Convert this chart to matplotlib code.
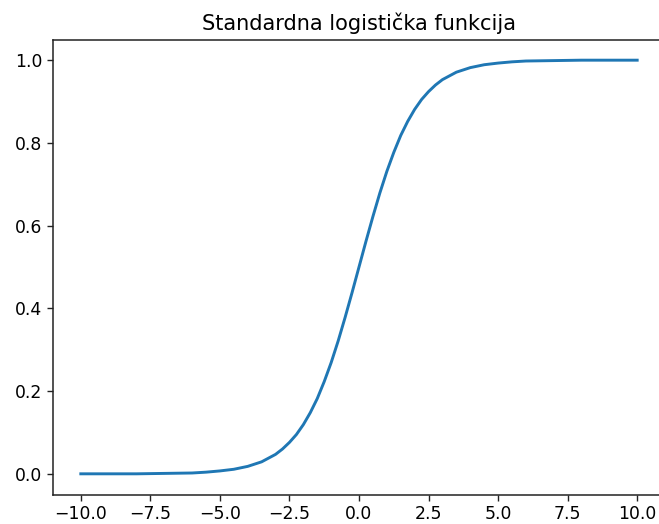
import matplotlib
matplotlib.use("Agg")
import matplotlib.pyplot as plt

# values
x_right = [0.0, 0.25, 0.5, 0.75, 1.0, 1.25, 1.5, 1.75, 2.0, 2.25, 2.5, 2.75,
           3.0, 3.5, 4.0, 4.5, 5.0, 5.5, 6.0, 7.0, 8.0, 9.0, 10.0]
y_right = [0.500, 0.562, 0.622, 0.679, 0.731, 0.777, 0.818, 0.852, 0.881, 0.905,
           0.924, 0.940, 0.953, 0.971, 0.982, 0.989, 0.993, 0.996, 0.998, 0.999,
           1.000, 1.000, 1.000]
x_vals = [-v for v in x_right[:0:-1]] + x_right
y_vals = [round(1 - v, 3) for v in y_right[:0:-1]] + y_right

title = "Standardna logistička funkcija"

W, H = 659, 524
fig = plt.figure(figsize=(W / 100, H / 100), dpi=100)
left, right, top, bottom = 53, 665, 39.5, 494.5
ax = fig.add_axes([left / W, 1 - bottom / H, (right - left) / W, (bottom - top) / H])
ax.plot(x_vals, y_vals, color="#1f77b4", linewidth=2.1)
ax.set_xlim(-11, 11)
ax.set_ylim(-0.05, 1.05)
ax.set_xticks([-10, -7.5, -5, -2.5, 0, 2.5, 5, 7.5, 10])
ax.set_yticks([0, 0.2, 0.4, 0.6, 0.8, 1.0])
ax.tick_params(labelsize=12.4, length=4.3, width=1.0, colors="#222222", labelcolor="black")
for s in ax.spines.values():
    s.set_linewidth(1.1)
    s.set_color("#222222")
ax.spines["right"].set_visible(False)
ax.set_title(title, fontsize=15, pad=7)
fig.savefig("out.png", dpi=100)
